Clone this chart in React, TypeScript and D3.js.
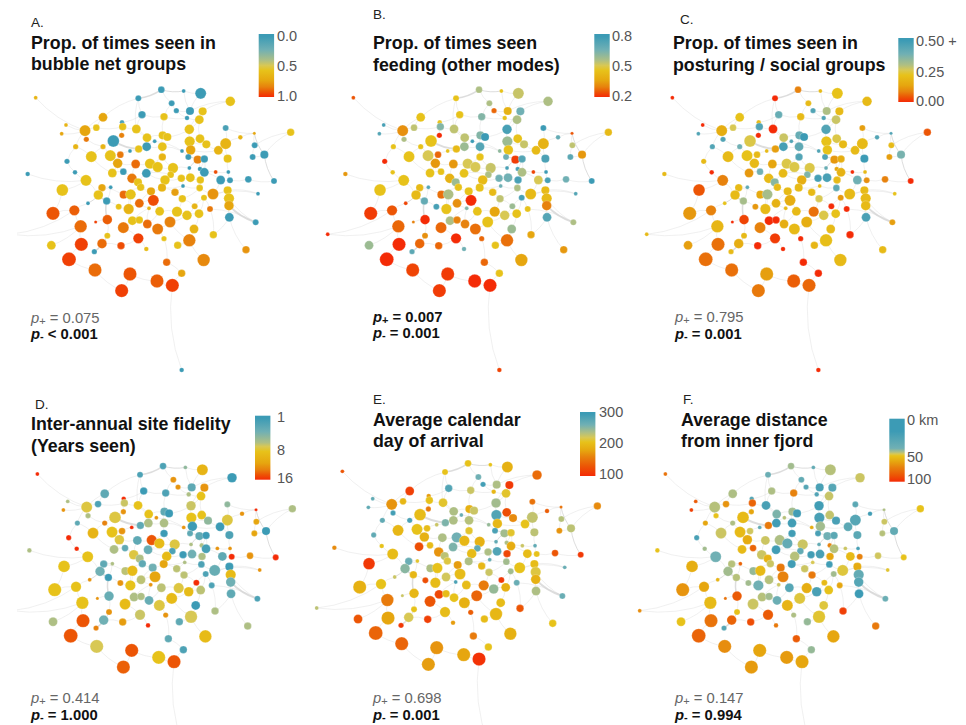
import React from "react";
import * as d3 from "d3";

// Layout coordinates of each whale (shared by all six panels), node 1..156
const layoutX = [107,484,551,602,415,691,515,529,570,608,426,492,309,561,598,366,198,368,289,409,677,255,185,568,763,872,365,488,502,441,600,721,259,340,569,619,677,464,764,227,309,440,487,572,416,655,390,546,361,793,274,331,487,565,758,593,613,683,201,353,407,450,473,519,568,600,83,225,337,370,439,613,647,685,512,396,571,544,258,495,601,662,690,745,822,414,422,306,332,486,549,599,187,639,683,453,525,774,295,371,392,612,687,460,547,320,264,418,687,356,386,584,630,447,223,159,479,531,561,597,688,767,322,287,397,418,510,242,442,370,473,582,640,322,415,492,568,154,244,306,363,533,439,738,283,207,611,500,285,545,390,471,517,365,545,30];
const layoutY = [293,269,273,280,295,304,310,332,333,334,344,350,352,354,359,367,375,380,383,387,384,392,401,388,400,397,406,406,411,413,416,412,418,423,424,433,431,424,436,440,440,440,440,450,447,451,453,453,464,464,470,467,471,471,471,479,477,476,484,490,492,491,501,504,504,507,522,517,519,515,520,517,516,516,524,535,533,535,541,540,540,540,541,538,543,547,562,563,562,563,558,564,570,582,571,574,577,581,585,584,583,593,595,601,596,603,610,610,617,620,627,619,627,625,631,640,634,635,646,641,652,667,659,666,662,660,666,679,672,683,687,687,704,707,715,716,721,736,733,731,737,736,747,749,755,778,780,787,810,820,822,843,856,872,1110,703];
const nodeSize = [5,9,5,15,8,13,8,7,11,11,10,10,12,6,12,6,5,10,9,12,8,15,5,13,4,10,7,11,11,12,12,6,7,16,14,11,15,5,8,7,7,12,12,13,10,12,5,5,9,11,15,15,10,8,8,11,10,11,7,13,12,14,14,14,5,6,6,6,12,9,12,12,5,5,9,13,12,10,15,13,10,12,8,9,8,11,10,10,5,11,5,9,16,15,11,11,10,5,13,11,14,8,14,15,10,10,5,12,13,8,14,8,8,5,14,18,12,14,13,12,12,8,13,4,12,10,15,17,12,15,15,12,10,8,14,7,17,12,18,13,10,10,6,10,7,19,17,10,18,10,18,18,18,18,6,5];

// Panel A: proportion of times seen in bubble net groups
const bubbleNet = [.65,.05,.05,.05,.05,.6,.05,.05,.05,.6,.05,.6,.7,.05,.6,.1,.65,.6,.6,.6,.1,.7,.7,.6,.7,.6,.8,.6,.6,.6,.6,.65,.82,.05,.6,.6,.65,.05,.05,.65,.65,.05,.6,.7,.6,.65,.05,.05,.82,.05,.6,.6,.65,.05,.05,.8,.05,.6,.05,.7,.85,.6,.6,.6,.05,.05,.05,.05,.6,.05,.05,.05,.92,.05,.6,.82,.6,.6,.6,.6,.6,.05,.05,.05,.05,.6,.6,.7,.05,.65,.05,.6,.6,.75,.6,.7,.72,.05,.6,.85,.6,.6,.6,.92,.6,.05,.05,.85,.7,.6,.65,.65,.82,.65,.88,.9,.6,.6,.6,.6,.05,.05,.88,.95,.6,.6,.8,.85,.85,.82,.82,.65,.6,.6,.95,.6,.8,.6,.95,.85,.92,.6,.62,.75,.05,.95,.78,.85,.85,.7,.9,.88,.95,.95,.05,.9];
// Panel B: proportion of times seen feeding (other modes)
const otherFeeding = [.25,.55,.42,.52,.42,.55,.55,.27,.38,.65,.42,.62,.42,.42,.55,.42,.75,.62,.53,.53,.78,.32,.72,.75,.25,.4,.2,.62,.78,.53,.42,.68,.55,.42,.58,.52,.38,.8,.53,.42,.42,.58,.72,.42,.4,.4,.42,.6,.27,.33,.42,.5,.42,.65,.7,.22,.72,.74,.2,.33,.33,.5,.5,.52,.75,.74,.33,.42,.42,.42,.42,.55,.23,.8,.55,.38,.65,.65,.42,.4,.75,.5,.75,.65,.78,.58,.42,.4,.72,.42,.65,.55,.42,.4,.4,.42,.4,.72,.4,.28,.55,.75,.4,.2,.53,.68,.23,.32,.3,.75,.42,.58,.42,.62,.25,.22,.42,.35,.5,.42,.72,.55,.2,.3,.55,.3,.42,.27,.3,.27,.28,.58,.35,.32,.2,.27,.28,.58,.2,.27,.27,.42,.65,.33,.7,.2,.35,.27,.23,.42,.22,.2,.2,.22,.23,.2];
// Panel C: proportion of times seen in posturing / social groups
const socialGroups = [0,.1,.2,.22,0,.2,.2,.45,.3,.2,.4,.2,.22,.45,.28,.2,0,.45,.27,0,.14,.17,.45,.45,.45,.05,0,.4,.5,.28,.26,.45,.45,.26,.22,.2,.2,.45,.2,.45,.38,.48,.42,.22,.14,.2,.2,.45,.2,.37,.2,.22,.45,.45,.14,.13,.17,.5,.2,.2,.15,.26,.26,.26,.4,.15,.2,0,.13,.38,.2,.18,0,.2,.36,.2,.47,.48,.1,.17,.2,.38,.12,.1,0,.35,.2,.2,.42,.2,.2,.42,.05,.2,.2,.2,.2,.22,.2,.16,.31,.13,.2,.17,.27,.31,.22,.18,.2,.13,.2,0,0,.2,.1,.13,.2,.08,.26,.22,.47,.14,.03,0,0,0,.17,.19,.17,.1,.2,.2,0,.2,.02,0,.21,.14,.08,.17,0,.19,0,.2,.2,.08,.2,0,.08,0,.14,.06,.07,.09,0,.2];
// Panel D: years seen
const yearsSeen = [16,2,5,10,2,1,12,12,3,12,1,2,3,6,9,16,6,7,2,9,5,8,12,7,16,6,12,3,1,9,9,12,6,8,9,5,8,12,11,3,13,6,6,1,3,1,16,12,12,1,10,9,1,3,11,3,1,2,16,8,3,15,9.5,8,6,6,6,16,6,3,3.5,1.5,12,12,2,8,4,1,9,9.5,6,3,16,12,16,6,3,3,6,11,6,2,9,3.5,1,4,6.5,12,4,6.5,9.5,2,9.5,11,6.5,1,12,6.5,4,12,9,16,2,12,9,9,6.5,8,9.5,6.5,3,2,3.5,12,6,6,9.5,9,3.5,9.5,8,1,6,12,7,12,7.5,6,15,4,11.5,3,16,6,13,15,9.5,3,7.5,2,15,9,15,14.5,8,6];
// Panel E: average calendar day of arrival
const arrivalDay = [130,205,205,190,205,145,260,290,235,110,280,225,115,195,210,175,270,205,195,210,150,170,270,240,150,165,155,190,225,235,125,135,290,200,280,165,228,265,232,270,285,235,232,195,255,205,225,245,200,230,195,205,210,285,170,240,210,230,270,190,235,260,195,190,270,235,165,205,125,200,255,185,225,270,270,170,280,235,200,200,120,200,205,130,110,230,215,265,210,235,265,240,110,205,200,175,195,265,250,235,205,240,215,200,225,195,225,222,190,125,200,110,265,285,205,190,200,155,245,190,235,265,195,225,120,200,140,155,205,130,190,200,130,205,200,135,195,130,180,220,115,200,175,205,110,140,190,155,140,205,170,180,105,175,200,230];
// Panel F: average distance from inner fjord (km)
const fjordDistance = [80,38,25,42,28,47,25,20,15,20,40,75,40,18,46,20,88,85,70,15,22,42,95,12,40,55,65,38,12,32,45,12,55,58,15,15,20,42,47,65,40,12,12,38,78,22,25,62,48,25,47,58,12,15,42,30,22,22,15,63,47,40,25,47,25,75,55,38,58,85,12,42,47,15,25,47,15,12,30,42,65,58,75,48,55,60,47,42,85,12,50,12,62,52,63,78,47,53,38,36,58,38,25,75,78,42,60,42,20,38,30,58,65,47,65,70,20,62,15,55,10,28,88,80,42,38,52,58,28,47,60,52,95,55,88,40,53,55,80,85,92,36,78,78,20,85,65,88,72,36,65,68,65,68,60,72];

// Network ties: source, target, association strength
const edgeList: number[][] = [[1,22,1],[5,2,3],[2,3,2],[3,9,1],[3,4,1],[4,9,1],[6,10,1],[6,9,1],[5,11,1],[5,13,1],[5,20,1],[2,7,1],[7,8,1],[8,9,1],[9,14,1],[14,15,1],[10,15,1],[11,12,1],[12,28,1],[11,20,1],[13,22,1],[13,19,1],[16,18,1],[18,20,1],[17,22,1],[23,22,1],[19,22,1],[22,33,1],[22,40,1],[18,27,1],[27,34,1],[34,45,4],[34,41,1],[45,42,1],[42,43,1],[43,53,1],[28,29,1],[28,30,1],[30,42,1],[30,20,1],[29,24,1],[24,15,1],[24,35,1],[35,44,1],[44,54,1],[15,31,1],[31,36,1],[36,46,1],[46,37,1],[37,21,1],[21,25,1],[25,32,1],[25,39,1],[25,50,2],[50,85,2],[26,50,1],[26,39,1],[39,55,1],[55,50,1],[32,37,1],[37,58,1],[58,46,1],[58,74,1],[74,83,1],[83,84,1],[84,85,1],[82,83,1],[82,72,1],[72,57,1],[57,56,1],[56,54,2],[54,48,1],[48,43,1],[48,38,1],[38,42,1],[47,45,1],[47,49,1],[49,52,1],[52,41,1],[41,51,1],[51,40,1],[40,59,1],[59,68,1],[68,79,1],[67,79,1],[51,69,1],[69,60,1],[60,52,1],[60,61,1],[61,62,1],[62,53,1],[62,63,1],[63,64,1],[64,75,1],[75,80,1],[80,78,1],[78,77,1],[77,81,1],[81,72,1],[65,64,1],[65,77,1],[66,72,1],[66,56,1],[73,72,1],[73,74,1],[76,70,1],[70,69,1],[76,86,1],[86,87,1],[87,96,1],[96,90,1],[90,80,1],[90,91,1],[91,92,1],[92,81,1],[92,94,1],[94,82,1],[94,95,1],[95,103,1],[103,109,1],[109,121,1],[121,144,1],[109,122,4],[103,122,1],[122,113,1],[113,102,1],[102,112,1],[112,105,1],[105,97,1],[97,90,1],[112,120,1],[120,119,1],[119,118,1],[118,117,1],[117,104,1],[104,108,1],[108,111,1],[111,101,1],[101,100,1],[100,88,1],[88,99,1],[99,79,1],[99,106,3],[106,89,1],[89,88,1],[106,123,3],[123,124,1],[145,140,3],[140,134,2],[134,123,1],[107,99,2],[107,115,1],[115,116,1],[116,93,1],[93,79,1],[115,128,1],[128,139,1],[139,146,1],[146,149,1],[149,154,1],[154,151,1],[151,152,1],[152,153,1],[153,155,1],[150,153,1],[150,148,1],[148,136,1],[136,131,1],[131,127,1],[127,119,1],[127,137,1],[137,132,1],[132,120,1],[133,113,1],[133,121,1],[137,147,1],[142,137,1],[143,135,1],[135,130,1],[130,125,1],[125,126,1],[126,129,1],[129,117,1],[114,129,1],[114,125,1],[110,111,1],[110,106,1],[141,140,1],[141,135,1],[138,128,1],[156,128,1],[156,115,1],[98,94,1],[98,95,1],[91,78,1],[71,86,1],[71,80,1],[71,63,1],[75,71,1],[10,24,1],[12,14,1],[8,14,1],[7,12,1],[16,11,1],[19,18,1],[33,41,1],[35,36,1],[31,35,1],[44,46,1],[56,65,2],[66,57,1],[28,43,1],[20,30,1],[53,64,1],[60,70,1],[61,76,1],[96,108,1],[104,96,1],[105,92,1],[97,91,1],[118,105,1],[119,112,1],[120,102,1],[87,100,1],[101,111,1],[108,114,1]];

// Shared colour ramp, low end (red) to high end (blue)
const rampColors = ["#f42b06","#ec5505","#e7820d","#e6a60f","#e7c21a","#d8c854","#aebf84","#70b0b4","#3c9bb5"];

const panels = [
  { letter: "A.", title: ["Prop. of times seen in", "bubble net groups"], values: bubbleNet,
    domain: [1,.9,.8,.7,.6,.5,.4,.25,.05], legendAt: [1,.92,.84,.74,.58,.5,.42,.25,.04],
    tickLabels: ["0.0","0.5","1.0"], tickY: [41,71,101], tickX: 277,
    dx: 0, dy: 0, clipLeft: 17, legend: [258.7,34,15.4,63],
    letterXY: [31,27], titleXY: [31,49,70], pXY: [31,322.5,339], pPlus: "0.075", pMinus: "< 0.001", plusBold: false },
  { letter: "B.", title: ["Prop. of times seen", "feeding (other modes)"], values: otherFeeding,
    domain: [.2,.25,.3,.35,.42,.5,.55,.65,.78], legendAt: [1,.92,.84,.74,.58,.5,.42,.25,.04],
    tickLabels: ["0.8","0.5","0.2"], tickY: [41,71,101], tickX: 612,
    dx: 317.7, dy: 0, clipLeft: 0, legend: [594.3,34,15.4,63],
    letterXY: [373,19], titleXY: [373,49,71], pXY: [373,322,338], pPlus: "0.007", pMinus: "= 0.001", plusBold: true },
  { letter: "C.", title: ["Prop. of times seen in", "posturing / social groups"], values: socialGroups,
    domain: [0,.05,.1,.15,.22,.27,.3,.38,.5], legendAt: [1,.92,.84,.74,.58,.5,.42,.25,.04],
    tickLabels: ["0.50 +","0.25","0.00"], tickY: [46,77,106], tickX: 916,
    dx: 636.7, dy: 0, clipLeft: 0, legend: [898.3,38,15.4,64],
    letterXY: [680,24], titleXY: [673,49,71], pXY: [675,322,339], pPlus: "0.795", pMinus: "= 0.001", plusBold: false },
  { letter: "D.", title: ["Inter-annual site fidelity", "(Years seen)"], values: yearsSeen,
    domain: [16,15,13,11,9,7.5,6,4,1], legendAt: [1,.92,.84,.74,.56,.48,.42,.25,.04],
    tickLabels: ["1","8","16"], tickY: [422,455,483], tickX: 277,
    dx: 1.7, dy: 376.4, clipLeft: 17, legend: [255,415.7,15.4,64],
    letterXY: [35,409], titleXY: [31,430,452], pXY: [31,703,720], pPlus: "0.414", pMinus: "= 1.000", plusBold: false },
  { letter: "E.", title: ["Average calendar", "day of arrival"], values: arrivalDay,
    domain: [100,130,160,180,205,220,235,260,295], legendAt: [1,.85,.7,.6,.47,.4,.32,.2,.03],
    tickLabels: ["300","200","100"], tickY: [417,448,479], tickX: 599,
    dx: 306.7, dy: 373.7, clipLeft: 0, legend: [580,412,15.4,64],
    letterXY: [373,404], titleXY: [373,426,447], pXY: [373,703,720], pPlus: "0.698", pMinus: "= 0.001", plusBold: false },
  { letter: "F.", title: ["Average distance", "from inner fjord"], values: fjordDistance,
    domain: [100,90,75,65,55,50,40,30,10], legendAt: [1,.9,.77,.68,.59,.56,.53,.47,.2],
    tickLabels: ["0 km","50","100"], tickY: [425,462,484], tickX: 907,
    dx: 629.7, dy: 376.4, clipLeft: 0, legend: [889.3,418.7,15.4,63],
    letterXY: [683,404], titleXY: [681,426,447], pXY: [675,703,720], pPlus: "0.147", pMinus: "= 0.994", plusBold: false },
];

const FONT = "'Liberation Sans', Arial, sans-serif";
const rScale = d3.scaleLinear().domain([4, 19]).range([1.6, 7.0]);

function edgePath(a: number, b: number, sx: any, sy: any) {
  const x1 = sx(layoutX[a - 1]), y1 = sy(layoutY[a - 1]);
  const x2 = sx(layoutX[b - 1]), y2 = sy(layoutY[b - 1]);
  const p = d3.path();
  p.moveTo(x1, y1);
  p.quadraticCurveTo((x1 + x2) / 2 - (y2 - y1) * 0.13, (y1 + y2) / 2 + (x2 - x1) * 0.13, x2, y2);
  return p.toString();
}

function Panel({ cfg, index }: { cfg: (typeof panels)[number]; index: number }) {
  const sx = d3.scaleLinear().domain([0, 1000]).range([cfg.dx, cfg.dx + 1000 / 3]);
  const sy = d3.scaleLinear().domain([0, 1000]).range([cfg.dy, cfg.dy + 1000 / 3]);
  const color = d3.scaleLinear<string>().domain(cfg.domain).range(rampColors).clamp(true);
  const clipId = `clip${index}`;
  const gradId = `grad${index}`;
  const [lx, ly, lw, lh] = cfg.legend;
  const stops = cfg.legendAt.map((at, i) => ({ at, c: rampColors[i] })).sort((p, q) => p.at - q.at);
  const textColor = "#555";
  const pStyle = (bold: boolean) => ({ fontWeight: bold ? 700 : 400, fill: bold ? "#111" : "#666" });
  return (
    <g>
      <defs>
        <clipPath id={clipId}>
          <rect x={cfg.clipLeft} y={0} width={966} height={725} />
        </clipPath>
        <linearGradient id={gradId} x1="0" y1="0" x2="0" y2="1">
          {stops.map((s) => (
            <stop key={s.at} offset={s.at} stopColor={s.c} />
          ))}
        </linearGradient>
      </defs>
      <g clipPath={`url(#${clipId})`}>
        <g fill="none" stroke="#cfcfcf" strokeLinecap="round">
          {edgeList.map(([a, b, w], i) => (
            <path key={i} d={edgePath(a, b, sx, sy)} strokeWidth={w === 1 ? 0.7 : w * 0.5} strokeOpacity={w === 1 ? 0.45 : 0.7} />
          ))}
        </g>
        {layoutX.map((_, i) => (
          <circle key={i} cx={sx(layoutX[i])} cy={sy(layoutY[i])} r={rScale(nodeSize[i])} fill={color(cfg.values[i])} stroke="#fff" strokeOpacity={0.6} strokeWidth={0.4} />
        ))}
      </g>
      <rect x={lx} y={ly} width={lw} height={lh} fill={`url(#${gradId})`} />
      {cfg.tickLabels.map((t, i) => (
        <text key={t} x={cfg.tickX} y={cfg.tickY[i]} fontSize={14.5} fill={textColor} fontFamily={FONT}>{t}</text>
      ))}
      <text x={cfg.letterXY[0]} y={cfg.letterXY[1]} fontSize={13.5} fill="#222" fontFamily={FONT}>{cfg.letter}</text>
      {cfg.title.map((t, i) => (
        <text key={t} x={cfg.titleXY[0]} y={cfg.titleXY[i + 1]} fontSize={17.8} fontWeight={700} fill="#111" fontFamily={FONT}>{t}</text>
      ))}
      <text x={cfg.pXY[0]} y={cfg.pXY[1]} fontSize={14.8} fontFamily={FONT} {...pStyle(cfg.plusBold)}>
        <tspan fontStyle="italic">p</tspan>
        <tspan dy={2} fontSize={11}>+</tspan>
        <tspan dy={-2}> = {cfg.pPlus}</tspan>
      </text>
      <text x={cfg.pXY[0]} y={cfg.pXY[2]} fontSize={14.8} fontFamily={FONT} {...pStyle(true)}>
        <tspan fontStyle="italic">p</tspan>
        <tspan dy={1} fontSize={11}>-</tspan>
        <tspan dy={-1}> {cfg.pMinus}</tspan>
      </text>
    </g>
  );
}

export default function App() {
  return (
    <svg width={966} height={725} viewBox="0 0 966 725" style={{ position: "absolute", left: 0, top: 0, background: "#fff" }}>
      {panels.map((p, i) => (
        <Panel key={p.letter} cfg={p} index={i} />
      ))}
    </svg>
  );
}
